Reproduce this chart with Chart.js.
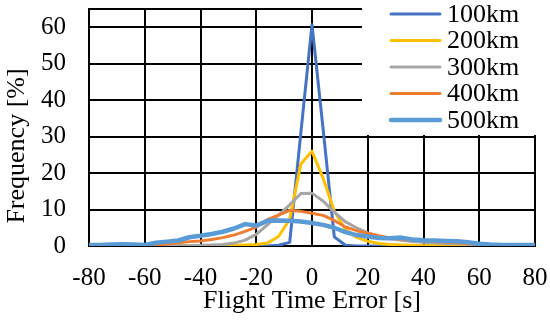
<!DOCTYPE html>
<html>
<head>
<meta charset="utf-8">
<script src="https://cdn.jsdelivr.net/npm/chart.js@4"></script>
<style>
  html, body { margin: 0; padding: 0; background: #fff; }
  #wrap { width: 550px; height: 327px; }
</style>
</head>
<body>
<div id="wrap"><canvas id="chart"></canvas></div>
<script>
// flight time error bins [s]
const errors = [-80, -76, -72, -68, -64, -60, -56, -52, -48, -44, -40, -36, -32, -28, -24, -20, -16, -12, -8, -4,
  0, 4, 8, 12, 16, 20, 24, 28, 32, 36, 40, 44, 48, 52, 56, 60, 64, 68, 72, 76, 80];

// frequency [%] per altitude
const km100 = [0, 0, 0, 0, 0, 0, 0, 0, 0, 0, 0, 0, 0, 0, 0, 0, 0, 0.2, 1.0, 31,
  60.7, 32, 2.5, 0.2, 0, 0, 0, 0, 0, 0, 0, 0, 0, 0, 0, 0, 0, 0, 0, 0, 0];
const km200 = [0, 0, 0, 0, 0, 0, 0, 0, 0, 0, 0.1, 0.1, 0.1, 0.2, 0.3, 0.4, 0.8, 2.6, 7.3, 22.5,
  26, 18.6, 9.6, 4.5, 2.4, 1.3, 0.7, 0.4, 0.3, 0.2, 0.1, 0.1, 0.1, 0.1, 0.1, 0, 0, 0, 0, 0, 0];
const km300 = [0.1, 0.1, 0.1, 0.1, 0.1, 0.1, 0.1, 0.1, 0.1, 0.1, 0.2, 0.3, 0.4, 0.8, 1.6, 3.2, 5.8, 8.5, 11.3, 14.4,
  14.5, 12.3, 9.3, 6.6, 5.0, 3.6, 2.6, 2.0, 1.6, 1.2, 1.0, 0.9, 0.7, 0.6, 0.5, 0.4, 0.3, 0.2, 0.2, 0.1, 0.1];
const km400 = [0.1, 0.1, 0.1, 0.1, 0.1, 0.1, 0.3, 0.6, 0.9, 1.2, 1.4, 1.8, 2.3, 3.0, 4.0, 5.2, 7.2, 8.5, 9.8, 9.5,
  9.0, 8.4, 7.0, 5.2, 4.2, 3.5, 2.8, 2.2, 1.9, 1.7, 1.5, 1.2, 1.0, 0.9, 0.7, 0.5, 0.4, 0.3, 0.2, 0.2, 0.1];
const km500 = [0.3, 0.3, 0.4, 0.5, 0.4, 0.3, 0.9, 1.2, 1.5, 2.4, 2.8, 3.3, 3.9, 4.8, 6.0, 5.6, 6.9, 7.0, 6.9, 6.7,
  6.3, 5.8, 5.0, 3.8, 3.0, 2.6, 2.2, 2.1, 2.3, 1.8, 1.6, 1.5, 1.4, 1.3, 1.0, 0.6, 0.4, 0.3, 0.3, 0.3, 0.3];

const seriesNames = ['100km', '200km', '300km', '400km', '500km'];
const seriesColors = ['#4472C4', '#FFC000', '#A5A5A5', '#ED7D31', '#5B9BD5'];
const seriesWidths = [3, 3, 3, 3, 4.5];
const series = [km100, km200, km300, km400, km500];

const xTicks = [-80, -60, -40, -20, 0, 20, 40, 60, 80];
const yTicks = [0, 10, 20, 30, 40, 50, 60];
const yTop = 65;

const xTitle = 'Flight Time Error [s]';
const yTitle = 'Frequency [%]';

const serif = '"Liberation Serif", "Times New Roman", serif';

// y title and legend box sitting over the plot, like the original
const overlay = {
  id: 'overlay',
  afterDraw(chart) {
    const ctx = chart.ctx;
    ctx.save();
    ctx.fillStyle = '#000';
    ctx.font = '26px ' + serif;
    ctx.translate(17, 146);
    ctx.rotate(-Math.PI / 2);
    ctx.textAlign = 'center';
    ctx.textBaseline = 'middle';
    ctx.fillText(yTitle, 0, 0);
    ctx.restore();

    ctx.save();
    ctx.fillStyle = '#fff';
    ctx.fillRect(362, 0, 188, 135);
    ctx.font = '26px ' + serif;
    ctx.textBaseline = 'middle';
    ctx.textAlign = 'left';
    chart.data.datasets.forEach((ds, i) => {
      const y = 14 + i * 26.5;
      ctx.strokeStyle = ds.borderColor;
      ctx.lineWidth = ds.borderWidth;
      ctx.lineCap = 'round';
      ctx.beginPath();
      ctx.moveTo(391, y);
      ctx.lineTo(440, y);
      ctx.stroke();
      ctx.fillStyle = '#000';
      ctx.fillText(ds.label, 447, y + 1);
    });
    ctx.restore();
  }
};

const datasets = series.map((vals, i) => ({
  label: seriesNames[i],
  data: errors.map((x, j) => ({x: x, y: vals[j]})),
  borderColor: seriesColors[i],
  backgroundColor: seriesColors[i],
  borderWidth: seriesWidths[i],
  borderJoinStyle: 'round',
  pointRadius: 0,
  tension: 0,
  fill: false,
  order: series.length - i
}));

new Chart(document.getElementById('chart'), {
  type: 'line',
  data: { datasets: datasets },
  options: {
    responsive: true,
    maintainAspectRatio: false,
    animation: false,
    layout: { padding: { left: 0, right: 15, top: 9, bottom: 0 } },
    plugins: {
      legend: { display: false },
      tooltip: { enabled: false }
    },
    scales: {
      x: {
        type: 'linear',
        min: -80,
        max: 80,
        afterBuildTicks: scale => { scale.ticks = xTicks.map(v => ({value: v})); },
        afterFit: scale => {
          scale.height = 81;
          scale.paddingLeft = 0;
          scale.paddingRight = 0;
        },
        ticks: {
          autoSkip: false,
          maxRotation: 0,
          padding: 17,
          color: '#000',
          font: { family: serif, size: 25 }
        },
        grid: { color: '#000', lineWidth: 2, drawTicks: false },
        border: { color: '#000', width: 2 },
        title: {
          display: true,
          text: xTitle,
          color: '#000',
          font: { family: serif, size: 26 },
          padding: { top: 0, bottom: 10 }
        }
      },
      y: {
        min: 0,
        max: yTop,
        afterBuildTicks: scale => { scale.ticks = yTicks.concat([yTop]).map(v => ({value: v})); },
        afterFit: scale => {
          scale.width = 89;
          scale.paddingTop = 0;
          scale.paddingBottom = 0;
        },
        ticks: {
          autoSkip: false,
          padding: 23,
          color: '#000',
          font: { family: serif, size: 25 },
          callback: v => (yTicks.includes(v) ? v : '')
        },
        grid: { color: '#000', lineWidth: 2, drawTicks: false },
        border: { color: '#000', width: 2 }
      }
    }
  },
  plugins: [overlay]
});
</script>
</body>
</html>
